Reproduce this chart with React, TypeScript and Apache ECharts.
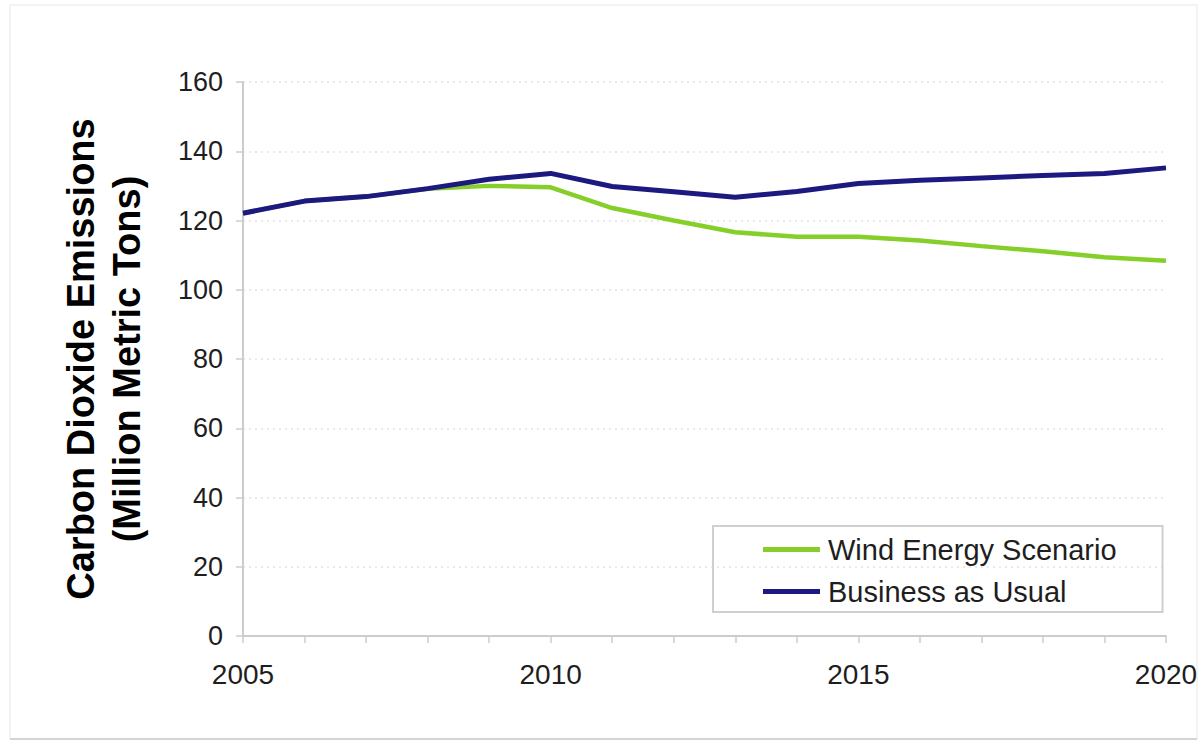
import React, { useEffect, useRef } from "react";
import * as echarts from "echarts";

// Projected CO2 emissions, 2005–2020 (million metric tons)
const years: number[] = [
  2005, 2006, 2007, 2008, 2009, 2010, 2011, 2012,
  2013, 2014, 2015, 2016, 2017, 2018, 2019, 2020,
];
const windEnergyScenario: number[] = [
  122.1, 125.6, 126.9, 129.2, 130.0, 129.6, 123.6, 120.0,
  116.6, 115.3, 115.3, 114.2, 112.6, 111.1, 109.4, 108.4,
];
const businessAsUsual: number[] = [
  122.1, 125.6, 126.9, 129.2, 131.9, 133.6, 129.8, 128.3,
  126.7, 128.4, 130.7, 131.6, 132.3, 133.0, 133.6, 135.2,
];
const seriesNames = ["Wind Energy Scenario", "Business as Usual"];
const yTitle = "Carbon Dioxide Emissions\n(Million Metric Tons)";

const FONT = "'Liberation Sans', Arial, Helvetica, sans-serif";
const AXIS_GREY = "#cccccc";
const TEXT = "#1e1e1e";

export default function App() {
  const ref = useRef<HTMLDivElement>(null);

  useEffect(() => {
    if (!ref.current) return;
    const chart = echarts.init(ref.current, null, { renderer: "svg" });
    const toPairs = (vals: number[]) => years.map((y, i) => [y, vals[i]]);

    chart.setOption({
      animation: false,
      backgroundColor: "#ffffff",
      textStyle: { fontFamily: FONT },
      grid: { left: 243, right: 37, top: 82, bottom: 108, containLabel: false },
      xAxis: {
        type: "value",
        min: 2005,
        max: 2020,
        interval: 5,
        axisLine: { show: true, lineStyle: { color: AXIS_GREY, width: 2 } },
        axisTick: { show: true, length: 7, lineStyle: { color: AXIS_GREY, width: 1.5 } },
        minorTick: { show: true, splitNumber: 5, length: 7, lineStyle: { color: AXIS_GREY, width: 1.5 } },
        splitLine: { show: false },
        axisLabel: {
          formatter: (v: number) => String(v),
          fontSize: 28,
          color: TEXT,
          fontFamily: FONT,
          margin: 24,
        },
      },
      yAxis: {
        type: "value",
        min: 0,
        max: 160,
        interval: 20,
        axisLine: { show: true, lineStyle: { color: AXIS_GREY, width: 2 } },
        axisTick: { show: true, length: 7, lineStyle: { color: AXIS_GREY, width: 1.5 } },
        splitLine: { show: true, lineStyle: { color: "#e2e2e2", width: 1.5, type: [2, 4] } },
        axisLabel: { fontSize: 27, color: TEXT, fontFamily: FONT, margin: 20 },
      },
      legend: {
        orient: "vertical",
        left: 713,
        top: 526,
        padding: [9, 46, 6, 50],
        itemGap: 13,
        itemWidth: 57,
        itemHeight: 5,
        icon: "rect",
        borderColor: "#cfcfcf",
        borderWidth: 2,
        data: seriesNames,
        textStyle: { fontSize: 29, color: TEXT, fontFamily: FONT, padding: [0, 0, 0, 3] },
      },
      graphic: [
        {
          type: "rect",
          shape: { x: 10, y: 5, width: 1187, height: 734 },
          style: { fill: "none", stroke: "#efefef", lineWidth: 1.5 },
          silent: true,
        },
        {
          type: "line",
          shape: { x1: 10, y1: 739, x2: 1197, y2: 739 },
          style: { stroke: "#d4d4d4", lineWidth: 2 },
          silent: true,
        },
        {
          type: "text",
          x: 104,
          y: 359,
          rotation: Math.PI / 2,
          style: {
            text: yTitle,
            font: `bold 38px ${FONT}`,
            fill: "#000000",
            align: "center",
            verticalAlign: "middle",
            lineHeight: 46,
          },
        },
      ],
      series: [
        {
          name: seriesNames[0],
          type: "line",
          data: toPairs(windEnergyScenario),
          symbol: "none",
          lineStyle: { color: "#86cf2a", width: 4.5 },
          itemStyle: { color: "#86cf2a" },
        },
        {
          name: seriesNames[1],
          type: "line",
          data: toPairs(businessAsUsual),
          symbol: "none",
          lineStyle: { color: "#1c1980", width: 5 },
          itemStyle: { color: "#1c1980" },
        },
      ],
    });

    return () => chart.dispose();
  }, []);

  return (
    <div
      ref={ref}
      style={{ position: "fixed", left: 0, top: 0, width: 1203, height: 744 }}
    />
  );
}
